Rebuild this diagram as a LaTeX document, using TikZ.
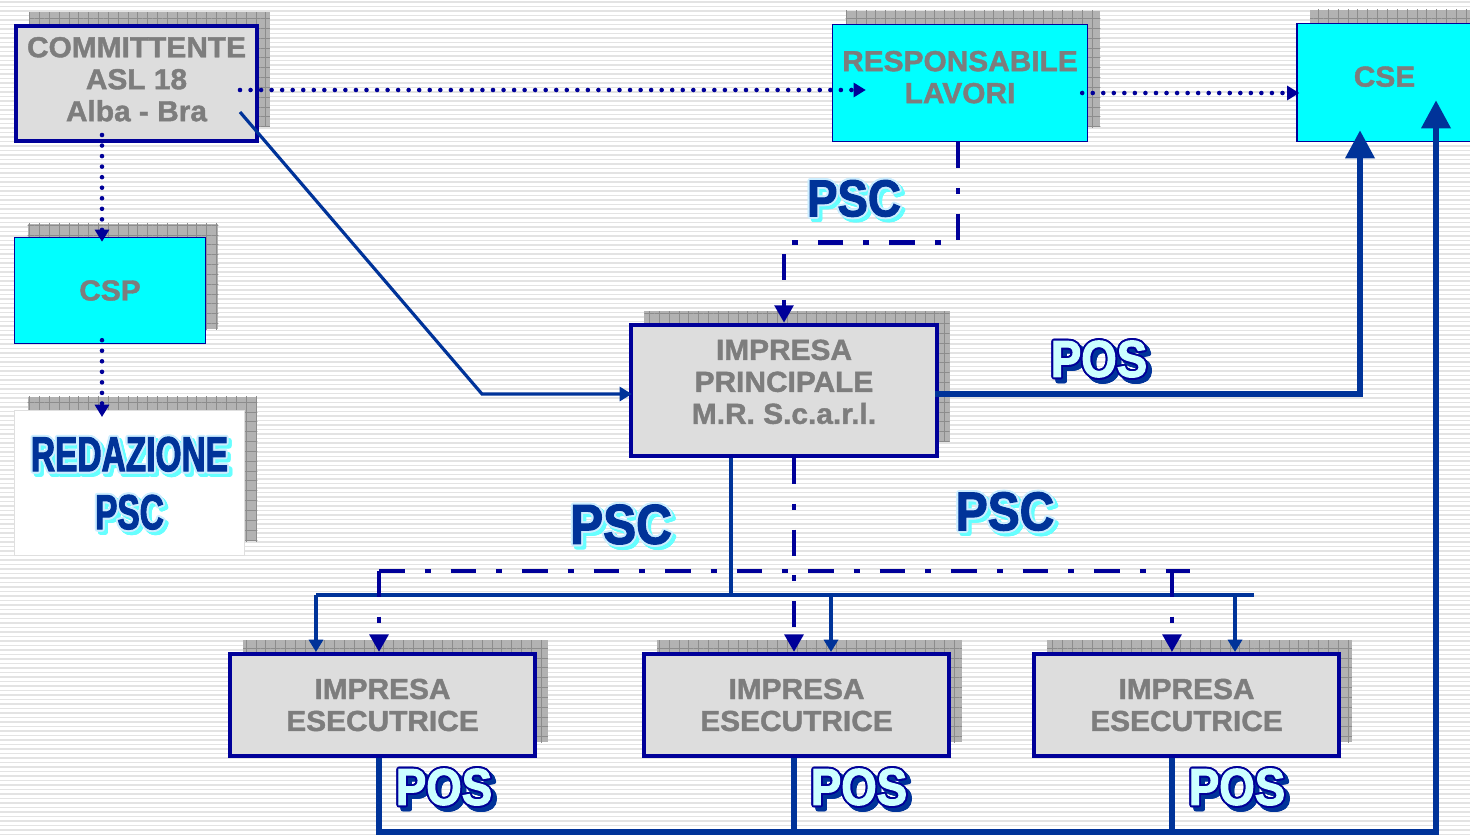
\documentclass[tikz,border=0pt]{standalone}
\usepackage{fontspec}
\setmainfont{Liberation Sans}[FakeStretch=1.03, BoldFeatures={FakeBold=1.4}]
\newfontfamily\impact{Liberation Sans}[FakeStretch=0.88, BoldFeatures={FakeBold=2}]
\newfontfamily\impactnarrow{Liberation Sans}[FakeStretch=0.68, BoldFeatures={FakeBold=2}]
\usepackage{contour}
\contourlength{1.1pt}
\usetikzlibrary{arrows.meta, calc, shadows, patterns.meta}
\definecolor{navy}{RGB}{0,0,153}
\definecolor{royal}{RGB}{0,51,153}
\definecolor{boxgrey}{RGB}{221,221,221}
\definecolor{textgrey}{RGB}{125,125,125}
\definecolor{aqua}{RGB}{0,255,255}
\definecolor{shadowgrey}{RGB}{178,178,178}
\definecolor{gridgrey}{RGB}{140,140,140}
\definecolor{stripegrey}{RGB}{227,227,227}
\definecolor{pscrim}{RGB}{204,238,255}
\definecolor{pscshadow}{RGB}{102,255,255}
\definecolor{poslight}{RGB}{204,255,255}
\tikzstyle{block} = [draw=navy, line width=2.3pt, fill=boxgrey, text=textgrey, align=center, inner sep=0pt, font=\bfseries\fontsize{16.5}{18.2}\selectfont, general shadow={fill=shadowgrey, shadow xshift=0.26cm, shadow yshift=0.28cm, postaction={pattern={Hatch[distance=5.6pt,line width=0.35pt]}, pattern color=gridgrey}}]
\tikzstyle{cyanblock} = [block, fill=aqua, line width=0.8pt]
\tikzstyle{whiteblock} = [block, fill=white, draw=gray!25, line width=0.6pt]
\tikzstyle{stripe} = [draw=stripegrey, line width=0.85pt]
\tikzstyle{link} = [draw=royal, line width=1.8pt]
\tikzstyle{posline} = [draw=royal, line width=3.6pt]
\tikzstyle{dotlink} = [draw=navy, line width=2.6pt, line cap=round, dash pattern=on 0pt off 6pt]
\tikzstyle{dashlink} = [draw=navy, line width=2.8pt, dash pattern=on 14.7pt off 11.3pt on 3.4pt off 11.3pt]
\tikzstyle{psclabel} = [inner sep=0pt, font=\impact\bfseries\fontsize{29.5}{30}\selectfont]
\tikzstyle{poslabel} = [psclabel]
\newcommand{\pscword}[1]{\leavevmode\rlap{\kern1.8pt\raisebox{-1.8pt}{\color{pscshadow}\contour{pscshadow}{#1}}}{\color{royal}\contour{pscrim}{#1}}}
\newcommand{\posword}[1]{\leavevmode\rlap{\kern2.3pt\raisebox{-2.3pt}{\color{royal}\contour{royal}{#1}}}{\color{poslight}\contour{navy}{#1}}}
\begin{document}
\begin{tikzpicture}[x=0.02cm, y=-0.02cm, >={Triangle[length=7pt,width=8pt]}]
  \useasboundingbox (0,0) rectangle (1470,835);
  \foreach \y in {2,6.5,...,835}
    \draw[stripe] (0,\y) -- (1470,\y);
  \node[block, minimum width=4.82cm, minimum height=2.3cm, text depth=5pt] (comm) at (136.5,83.5) {COMMITTENTE\\ASL 18\\Alba - Bra};
  \node[cyanblock, minimum width=5.1cm, minimum height=2.34cm, text depth=6.8pt] (resp) at (960,83) {RESPONSABILE\\LAVORI};
  \node[cyanblock, minimum width=3.5cm, minimum height=2.36cm, text depth=6.8pt] (cse) at (1384.5,82.5) {CSE};
  \node[cyanblock, minimum width=3.82cm, minimum height=2.12cm] (csp) at (110,290.5) {CSP};
  \node[whiteblock, minimum width=4.6cm, minimum height=2.9cm, text depth=-6pt, font=\impactnarrow\bfseries\fontsize{28}{33}\selectfont] (red) at (129.5,483) {\pscword{REDAZIONE}\\\pscword{PSC}};
  \node[block, line width=2.5pt, minimum width=6.12cm, minimum height=2.62cm, text depth=10pt] (princ) at (784,390.5) {IMPRESA\\PRINCIPALE\\M.R. S.c.a.r.l.};
  \node[block, minimum width=6.1cm, minimum height=2.04cm] (ese1) at (382.5,705) {IMPRESA\\ESECUTRICE};
  \node[block, minimum width=6.1cm, minimum height=2.04cm] (ese2) at (796.5,705) {IMPRESA\\ESECUTRICE};
  \node[block, minimum width=6.1cm, minimum height=2.04cm] (ese3) at (1186.5,705) {IMPRESA\\ESECUTRICE};
  \draw[dotlink, ->] ($(comm.east)+(-19,6.5)$) -- ($(resp.west)+(34,7)$);
  \draw[dotlink, ->] ($(resp.east)+(-6,10)$) -- ($(cse.west)+(3,10.5)$);
  \draw[dotlink, ->] ($(comm.south)+(-34.5,-8)$) -- ($(csp.north)+(-8,5)$);
  \draw[dotlink, ->] ($(csp.south)+(-8,-4)$) -- ($(red.north)+(-27.5,7)$);
  \draw[link, ->] ($(comm.east)+(-19,28.5)$) -- ++(242,282) -- ($(princ.west)+(3,3.5)$);
  \draw[dashlink, -{Triangle[length=10pt,width=10.5pt]}] ($(resp.south)+(-2,0)$) -- ++(0,100) -| (princ.north);
  \draw[posline, -{Triangle[length=16pt,width=16pt]}] ($(princ.east)+(-4,3.5)$) -| ($(cse.south)+(-24.5,-12)$);
  \draw[link] ($(princ.south)+(-53,0)$) -- ++(0,137);
  \draw[link] ($(ese1.north)+(-66.5,-57)$) -- ($(ese3.north)+(67.5,-57)$);
  \foreach \n/\dx in {ese1/-66.5, ese2/34.5, ese3/48.5}
    \draw[link, ->] ($(\n.north)+(\dx,-57)$) -- ($(\n.north)+(\dx,0)$);
  \draw[dashlink, -{Triangle[length=10pt,width=10.5pt]}] ($(princ.south)+(10,0)$) -- ($(ese2.north)+(-2.5,0)$);
  \draw[dashlink] ($(ese1.north)+(-3.5,-81)$) -- ($(ese3.north)+(3.5,-81)$);
  \draw[dashlink, -{Triangle[length=10pt,width=10.5pt]}] ($(ese1.north)+(-3.5,-81)$) -- ($(ese1.north)+(-3.5,0)$);
  \draw[dashlink, -{Triangle[length=10pt,width=10.5pt]}] ($(ese3.north)+(-14.5,-81)$) -- ($(ese3.north)+(-14.5,0)$);
  \draw[posline, -{Triangle[length=16pt,width=16pt]}] ($(ese1.south)+(-3.5,0)$) -- ++(0,74) -| ($(cse.south)+(51.5,-42)$);
  \draw[posline] ($(ese2.south)+(-2.5,0)$) -- ++(0,74);
  \draw[posline] ($(ese3.south)+(-14.5,0)$) -- ++(0,74);
  \node[psclabel] (psc1) at (854,201) {\pscword{PSC}};
  \node[psclabel, font=\impact\bfseries\fontsize{32}{33}\selectfont] (psc2) at (621,527) {\pscword{PSC}};
  \node[psclabel, font=\impact\bfseries\fontsize{31}{33}\selectfont] (psc3) at (1005,514) {\pscword{PSC}};
  \node[poslabel] (pos1) at (1099,362) {\posword{POS}};
  \node[poslabel] (pos2) at (444,790) {\posword{POS}};
  \node[poslabel] (pos3) at (859,790) {\posword{POS}};
  \node[poslabel] (pos4) at (1237,790) {\posword{POS}};
\end{tikzpicture}
\end{document}
